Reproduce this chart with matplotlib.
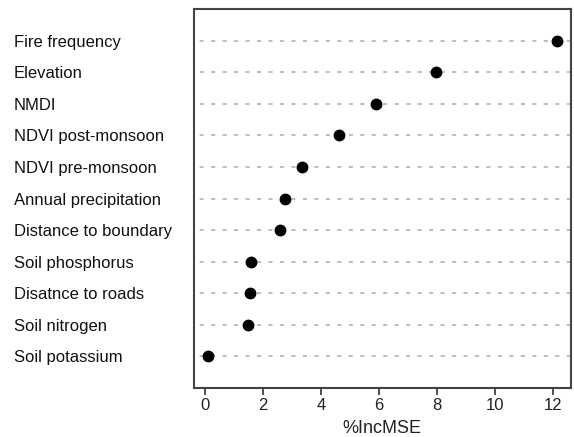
import matplotlib
matplotlib.use("Agg")
from matplotlib import pyplot as plt
import numpy as np

plt.rcParams['font.family'] = ['Liberation Sans', 'DejaVu Sans']

variables = ["Fire frequency", "Elevation", "NMDI", "NDVI post-monsoon",
             "NDVI pre-monsoon", "Annual precipitation", "Distance to boundary",
             "Soil phosphorus", "Disatnce to roads", "Soil nitrogen", "Soil potassium"]
inc_mse = [12.14, 7.95, 5.91, 4.63, 3.33, 2.76, 2.60, 1.59, 1.55, 1.48, 0.09]
xticks = [0, 2, 4, 6, 8, 10, 12]

fig = plt.figure(figsize=(5.74, 4.37), dpi=100)
ax = fig.add_axes([0.3375, 0.1121, 0.6573, 0.8673])

n = len(variables)
ys = np.arange(n, 0, -1)
lo, hi = min(inc_mse), max(inc_mse)
pad = (hi - lo) * 0.04
ax.set_xlim(lo - pad, hi + pad)
ax.set_ylim(0, n + 1)

# dotted guide lines, like R's dotchart
for y in ys:
    ax.axhline(y, color="#bdbdbd", linestyle=(3, (2.1, 3.8)), linewidth=1.4, zorder=1)
ax.plot(inc_mse, ys, "o", color="black", markersize=7.5, zorder=3)

ax.set_yticks(ys)
ax.set_yticklabels(variables, fontsize=12, ha="left", color="#111111")
ax.tick_params(axis="y", length=0, pad=(193.7 - 14) * 0.72)
ax.set_xticks(xticks)
ax.tick_params(axis="x", length=5, width=1.2, colors="#333333", labelsize=12,
               labelcolor="#222222", pad=2)
ax.set_xlabel("%IncMSE", fontsize=13, color="#222222", labelpad=5)

for s in ax.spines.values():
    s.set_color("#444444")
    s.set_linewidth(1.5)

fig.savefig("out.png", dpi=100)
